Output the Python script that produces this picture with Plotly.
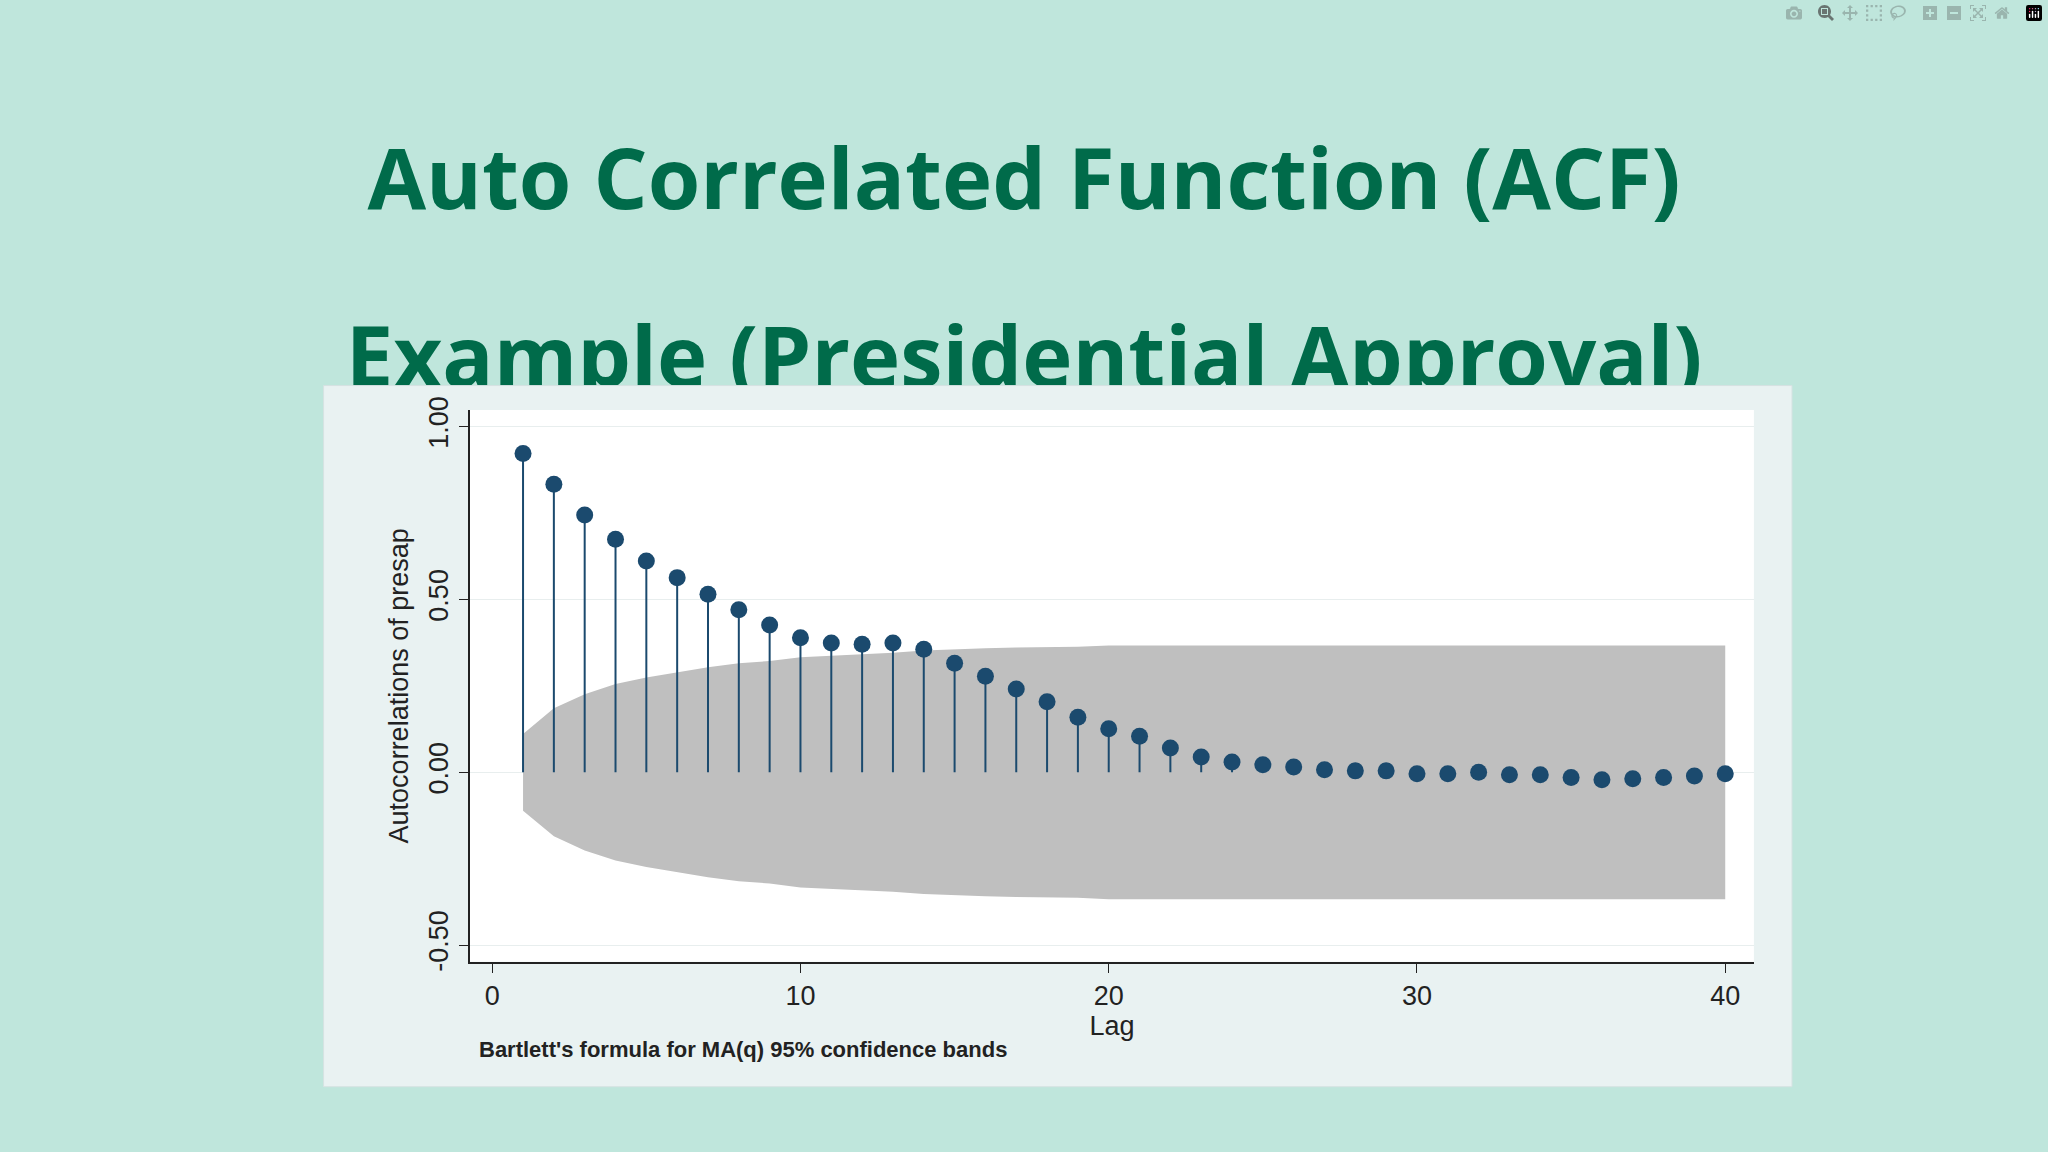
import plotly.graph_objects as go

lags = list(range(1, 41))
acf = [0.922, 0.833, 0.744, 0.674, 0.611, 0.563, 0.515, 0.470, 0.426, 0.389,
       0.374, 0.370, 0.374, 0.356, 0.315, 0.278, 0.241, 0.204, 0.159, 0.126,
       0.104, 0.070, 0.044, 0.030, 0.022, 0.015, 0.007, 0.004, 0.004, -0.004,
       -0.004, 0.000, -0.007, -0.007, -0.015, -0.022, -0.019, -0.015, -0.011, -0.004]
band = [0.111, 0.185, 0.226, 0.255, 0.274, 0.289, 0.304, 0.315, 0.322, 0.333,
        0.337, 0.340, 0.346, 0.352, 0.356, 0.359, 0.361, 0.362, 0.363, 0.367,
        0.367, 0.367, 0.367, 0.367, 0.367, 0.367, 0.367, 0.367, 0.367, 0.367,
        0.367, 0.367, 0.367, 0.367, 0.367, 0.367, 0.367, 0.367, 0.367, 0.367]
titles = ["Auto Correlated Function (ACF)", "Example (Presidential Approval)"]
ytickvals = [-0.5, 0, 0.5, 1.0]
yticktext = ["-0.50", "0.00", "0.50", "1.00"]

BG = "#bfe6dc"
PANEL = "#e9f2f2"
NAVY = "#1b4a6e"
GREEN = "#006b4a"

fig = go.Figure()
fig.add_trace(go.Scatter(x=[0.5, 0.5], y=[0.845, 0.688], mode="text", text=titles,
                         textfont=dict(family="Open Sans", size=85, color=GREEN, weight="bold"),
                         hoverinfo="skip", showlegend=False))
px0, px1, py0, py1 = 0.158, 0.875, 0.049, 0.670
fig.add_trace(go.Scatter(x=[px0, px1, px1, px0, px0], y=[py0, py0, py1, py1, py0], fill="toself",
                         fillcolor=PANEL, line=dict(color="#d5e2e2", width=1), mode="lines",
                         hoverinfo="skip", showlegend=False))
ax0, ax1, ay0, ay1 = 0.2295, 0.8564, 0.1597, 0.6484
fig.add_trace(go.Scatter(x=[ax0, ax1, ax1, ax0, ax0], y=[ay0, ay0, ay1, ay1, ay0], fill="toself",
                         fillcolor="white", line=dict(width=0), mode="lines",
                         hoverinfo="skip", showlegend=False))

fig.add_trace(go.Scatter(x=lags, y=band, mode="lines", line=dict(width=0), xaxis="x2", yaxis="y2",
                         showlegend=False, hoverinfo="skip"))
fig.add_trace(go.Scatter(x=lags, y=[-b for b in band], mode="lines", line=dict(width=0),
                         fill="tonexty", fillcolor="#bfbfbf", xaxis="x2", yaxis="y2",
                         showlegend=False, hoverinfo="skip"))
sx, sy = [], []
for l, a in zip(lags, acf):
    sx += [l, l, None]
    sy += [0, a, None]
fig.add_trace(go.Scatter(x=sx, y=sy, mode="lines", line=dict(color=NAVY, width=2),
                         xaxis="x2", yaxis="y2", showlegend=False, hoverinfo="skip"))
fig.add_trace(go.Scatter(x=lags, y=acf, mode="markers", marker=dict(color=NAVY, size=17),
                         xaxis="x2", yaxis="y2", showlegend=False))

fig.update_layout(
    width=2048, height=1152, margin=dict(l=0, r=0, t=0, b=0),
    paper_bgcolor=BG, plot_bgcolor="rgba(0,0,0,0)",
    xaxis=dict(domain=[0, 1], range=[0, 1], visible=False, fixedrange=True),
    yaxis=dict(domain=[0, 1], range=[0, 1], visible=False, fixedrange=True),
    xaxis2=dict(domain=[ax0, ax1], range=[-0.72, 40.93], anchor="y2",
                tickvals=[0, 10, 20, 30, 40], ticks="outside", ticklen=9, tickcolor="#222",
                showline=True, linecolor="#222", linewidth=2, showgrid=False, zeroline=False,
                tickfont=dict(family="Liberation Sans", size=27, color="#222"),
                title=dict(text="Lag", font=dict(family="Liberation Sans", size=27, color="#222"), standoff=2)),
    yaxis2=dict(domain=[ay0, ay1], range=[-0.548, 1.048], anchor="x2",
                tickvals=ytickvals, ticktext=yticktext, tickangle=-90, ticks="outside", ticklen=9,
                tickcolor="#222", showline=True, linecolor="#222", linewidth=2,
                showgrid=True, gridcolor="#e8eeee", zeroline=False,
                tickfont=dict(family="Liberation Sans", size=27, color="#222"),
                title=dict(text="Autocorrelations of presap",
                           font=dict(family="Liberation Sans", size=27, color="#222"), standoff=8)),
    annotations=[dict(text="Bartlett's formula for MA(q) 95% confidence bands", x=0.233, y=1 - 1058 / 1152,
                      xref="paper", yref="paper", xanchor="left", yanchor="middle", showarrow=False,
                      font=dict(family="Liberation Sans", size=22, color="#222", weight="bold"))],
)
fig.write_html("out.html")
with open("out.html", encoding="utf-8") as f:
    html = f.read()
html = html.replace("<body>", '<body style="margin:0;background:#bfe6dc">', 1)
with open("out.html", "w", encoding="utf-8") as f:
    f.write(html)
